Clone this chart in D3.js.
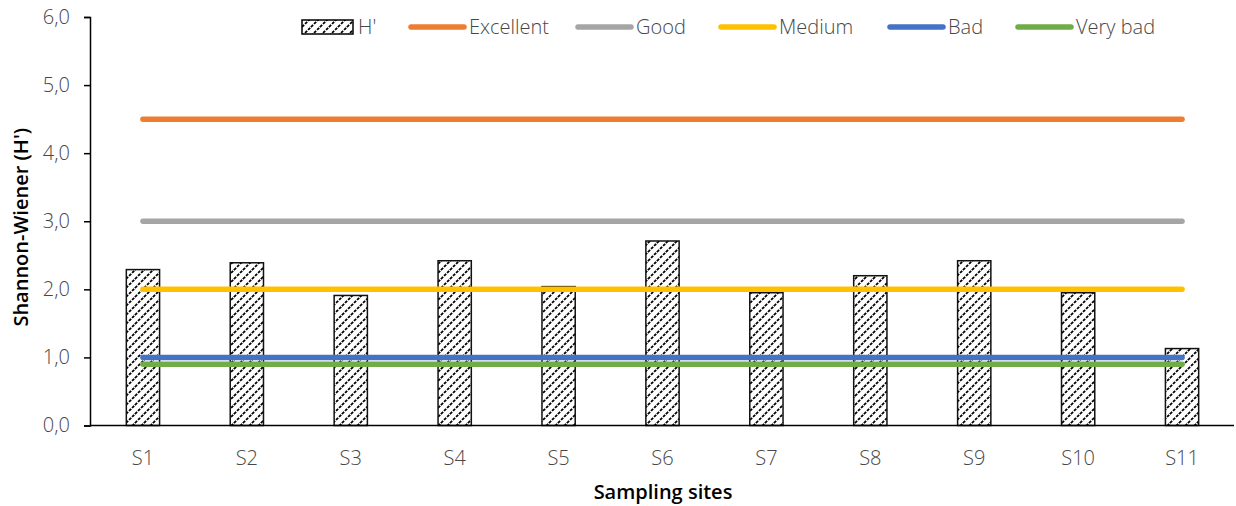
<!DOCTYPE html>
<html>
<head>
<meta charset="utf-8">
<script src="https://cdn.jsdelivr.net/npm/d3@7"></script>
<style>
  html, body { margin: 0; padding: 0; background: #fff; }
  svg { display: block; font-family: "Open Sans", sans-serif; }
</style>
</head>
<body>
<svg id="chart" width="1236" height="506"></svg>
<script>
// Sampling sites and Shannon-Wiener diversity index per site
const sites = ["S1", "S2", "S3", "S4", "S5", "S6", "S7", "S8", "S9", "S10", "S11"];
const hValues = [2.29, 2.39, 1.91, 2.42, 2.04, 2.71, 1.95, 2.20, 2.42, 1.95, 1.13];

// Water-quality class thresholds drawn as horizontal reference lines
const classNames = ["Excellent", "Good", "Medium", "Bad", "Very bad"];
const classValues = [4.5, 3.0, 2.0, 1.0, 0.9];
const classColors = ["#ED7D31", "#A5A5A5", "#FFC000", "#4472C4", "#70AD47"];

const yTicks = [0, 1, 2, 3, 4, 5, 6];

const FONT = "'Open Sans', sans-serif";
const svg = d3.select("#chart");
const margin = { left: 91, right: 2, top: 17, bottom: 80 };
const W = 1236, H = 506;

const x = d3.scaleBand()
  .domain(sites)
  .range([margin.left, W - margin.right])
  .paddingInner(0.68)
  .paddingOuter(0.34);

const y = d3.scaleLinear()
  .domain([0, 6])
  .range([H - margin.bottom - 0.5, margin.top]);

const textColor = "#474747";
const fmt = d => d3.format(".1f")(d).replace(".", ",");

// Hatch pattern for the bars
const defs = svg.append("defs");
const pat = defs.append("pattern")
  .attr("id", "hatch")
  .attr("patternUnits", "userSpaceOnUse")
  .attr("width", 9)
  .attr("height", 9);
pat.append("rect").attr("width", 9).attr("height", 9).attr("fill", "#fff");
pat.append("path")
  .attr("d", "M-2,2 L2,-2 M0,9 L9,0 M7,11 L11,7")
  .attr("stroke", "#000")
  .attr("stroke-width", 1.8)
  .attr("stroke-dasharray", "3,1.3");

// Bars
svg.append("g")
  .selectAll("rect")
  .data(sites.map((s, i) => ({ site: s, v: hValues[i] })))
  .join("rect")
  .attr("x", d => x(d.site))
  .attr("y", d => y(d.v))
  .attr("width", x.bandwidth())
  .attr("height", d => y(0) - y(d.v))
  .attr("fill", "url(#hatch)")
  .attr("stroke", "#111")
  .attr("stroke-width", 1.5);

// Reference lines across the sites
const xFirst = x(sites[0]) + x.bandwidth() / 2;
const xLast = x(sites[sites.length - 1]) + x.bandwidth() / 2;
svg.append("g")
  .selectAll("line")
  .data(classValues.map((v, i) => ({ v, c: classColors[i] })))
  .join("line")
  .attr("x1", xFirst)
  .attr("x2", xLast)
  .attr("y1", d => y(d.v))
  .attr("y2", d => y(d.v))
  .attr("stroke", d => d.c)
  .attr("stroke-width", 5.5)
  .attr("stroke-linecap", "round");

// Y axis
const yAxis = svg.append("g")
  .attr("transform", `translate(${margin.left - 1},0)`)
  .call(d3.axisLeft(y).tickValues(yTicks).tickFormat(fmt).tickSize(6).tickPadding(14));
yAxis.attr("font-family", FONT).attr("font-size", 20);
yAxis.select(".domain").attr("stroke", "#000").attr("stroke-width", 1.5);
yAxis.selectAll(".tick line").attr("stroke", "#000").attr("stroke-width", 1.5);
yAxis.selectAll(".tick text")
  .attr("fill", textColor)
  .style("font-weight", 300);

// X axis
const xAxis = svg.append("g")
  .attr("transform", `translate(0,${y(0)})`)
  .call(d3.axisBottom(x).tickSize(0).tickPadding(25));
xAxis.attr("font-family", FONT).attr("font-size", 20);
xAxis.select(".domain").attr("stroke", "#000").attr("stroke-width", 1.5)
  .attr("d", `M${margin.left - 1},0H${W - margin.right}`);
xAxis.selectAll(".tick text")
  .attr("fill", textColor)
  .style("font-weight", 300);

// Axis titles
svg.append("text")
  .attr("x", 663)
  .attr("y", 499)
  .attr("text-anchor", "middle")
  .attr("fill", "#000")
  .style("font-size", "20px")
  .style("font-weight", 600)
  .text("Sampling sites");

svg.append("text")
  .attr("transform", `translate(28,${(y(0) + y(6)) / 2 + 6}) rotate(-90)`)
  .attr("text-anchor", "middle")
  .attr("fill", "#000")
  .style("font-size", "20px")
  .style("font-weight", 600)
  .text("Shannon-Wiener (H')");

// Legend
const legend = svg.append("g").attr("transform", "translate(0,27)");
const hItem = legend.append("g").attr("transform", "translate(302,0)");
hItem.append("rect")
  .attr("x", 0).attr("y", -7).attr("width", 51).attr("height", 14)
  .attr("fill", "url(#hatch)").attr("stroke", "#000").attr("stroke-width", 1.5);
hItem.append("text")
  .attr("x", 56).attr("y", 0).attr("dy", "0.35em")
  .attr("fill", textColor).style("font-size", "20px").style("font-weight", 300)
  .text("H'");

const legendX = [411, 578, 721, 890, 1018];
classNames.forEach((name, i) => {
  const g = legend.append("g").attr("transform", `translate(${legendX[i]},0)`);
  g.append("line")
    .attr("x1", 0).attr("x2", 53).attr("y1", 0).attr("y2", 0)
    .attr("stroke", classColors[i]).attr("stroke-width", 5.5)
    .attr("stroke-linecap", "round");
  g.append("text")
    .attr("x", 58).attr("y", 0).attr("dy", "0.35em")
    .attr("fill", textColor).style("font-size", "20px").style("font-weight", 300)
    .text(name);
});
</script>
</body>
</html>
